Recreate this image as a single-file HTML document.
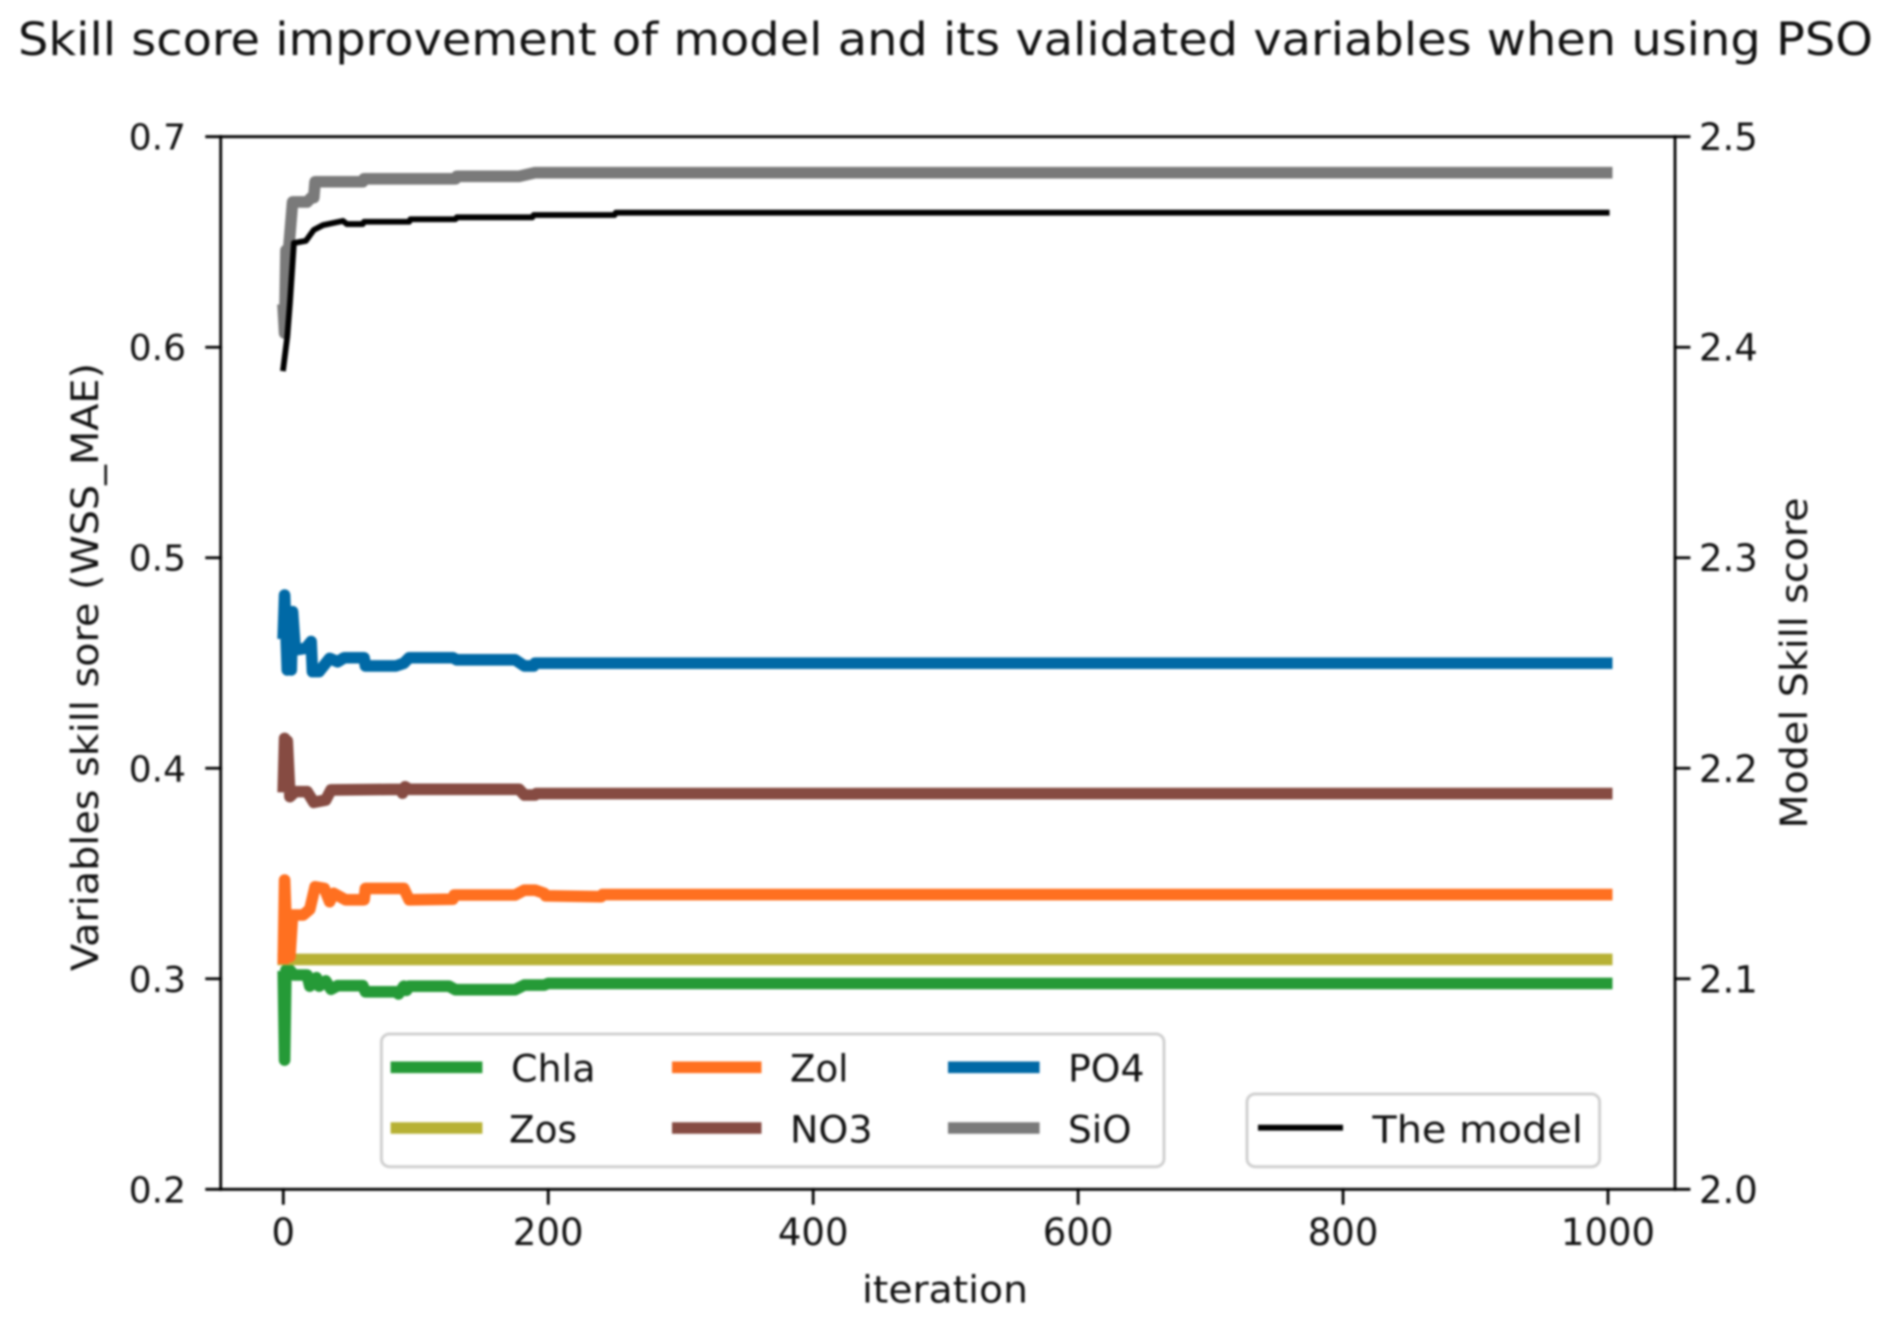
<!DOCTYPE html>
<html lang="en">
<head>
<meta charset="utf-8">
<title>Skill score improvement</title>
<style>
  html, body { margin: 0; padding: 0; background: #fff; }
  body { width: 1892px; height: 1324px; overflow: hidden; }
  svg { display: block; filter: blur(1.1px); }
  text { font-family: "DejaVu Sans", "Liberation Sans", sans-serif; fill: #111; }
  .tick-text { font-size: 37px; }
  .tick-text-left { font-size: 36px; }
  .legend-text { font-size: 37px; }
</style>
</head>
<body>
<svg id="chart" xmlns="http://www.w3.org/2000/svg" width="1892" height="1324" viewBox="0 0 1892 1324">
  <rect x="0" y="0" width="1892" height="1324" fill="#fff"/>
  <text x="18" y="55" font-size="45" textLength="1855" lengthAdjust="spacingAndGlyphs">Skill score improvement of model and its validated variables when using PSO</text>
  <text x="862" y="1302.5" font-size="37" textLength="166" lengthAdjust="spacingAndGlyphs">iteration</text>
  <text transform="translate(98 667) rotate(-90)" text-anchor="middle" font-size="37" textLength="608" lengthAdjust="spacingAndGlyphs">Variables skill sore (WSS_MAE)</text>
  <text transform="translate(1807 663) rotate(-90)" text-anchor="middle" font-size="37" textLength="331" lengthAdjust="spacingAndGlyphs">Model Skill score</text>
  <g id="series-layer"></g>
  <g id="axis-layer"></g>

  <g>
    <rect x="381.4" y="1034" width="782.6" height="132.7" rx="8" fill="#fff" fill-opacity="0.8" stroke="#d0d0d0" stroke-width="3"/>
    <line x1="390.6" x2="482.4" y1="1067.3" y2="1067.3" stroke="#259a37" stroke-width="11.6"/>
    <text class="legend-text" x="511" y="1081.7" textLength="84.5" lengthAdjust="spacingAndGlyphs">Chla</text>
    <line x1="390.6" x2="482.4" y1="1128" y2="1128" stroke="#b7b134" stroke-width="11.6"/>
    <text class="legend-text" x="509" y="1142.3" textLength="68" lengthAdjust="spacingAndGlyphs">Zos</text>
    <line x1="672" x2="761.5" y1="1067.3" y2="1067.3" stroke="#ff7020" stroke-width="11.6"/>
    <text class="legend-text" x="790" y="1081.7" textLength="58.5" lengthAdjust="spacingAndGlyphs">Zol</text>
    <line x1="672" x2="761.5" y1="1128" y2="1128" stroke="#864b42" stroke-width="11.6"/>
    <text class="legend-text" x="790" y="1142.3" textLength="82.5" lengthAdjust="spacingAndGlyphs">NO3</text>
    <line x1="948" x2="1039.6" y1="1067.3" y2="1067.3" stroke="#0069a6" stroke-width="11.6"/>
    <text class="legend-text" x="1068" y="1081.7" textLength="76.5" lengthAdjust="spacingAndGlyphs">PO4</text>
    <line x1="948" x2="1039.6" y1="1128" y2="1128" stroke="#7a7a7a" stroke-width="11.6"/>
    <text class="legend-text" x="1068" y="1142.3" textLength="63.5" lengthAdjust="spacingAndGlyphs">SiO</text>
  </g>
  <g>
    <rect x="1247" y="1094" width="352.6" height="72.7" rx="8" fill="#fff" fill-opacity="0.8" stroke="#d0d0d0" stroke-width="3"/>
    <line x1="1258" x2="1343" y1="1127.7" y2="1127.7" stroke="#000" stroke-width="5.8"/>
    <text class="legend-text" x="1372.4" y="1142.3" textLength="210.5" lengthAdjust="spacingAndGlyphs">The model</text>
  </g>
</svg>
<script>
const chlaIter = [0,1,2,5,8,18,20,25,27,32,36,41,60,62,85,87,91,93,95,125,130,175,182,197,200,999];
const chlaVals = [0.3010,0.2614,0.3041,0.3041,0.3018,0.3018,0.2965,0.3005,0.2965,0.2990,0.2950,0.2967,0.2967,0.2938,0.2938,0.2928,0.2965,0.2945,0.2965,0.2965,0.2948,0.2948,0.2970,0.2970,0.2978,0.2978];

const zosIter = [0,999];
const zosVals = [0.3092,0.3092];

const zolIter = [0,1,3,5,7,15,20,24,31,35,38,47,61,62,91,95,128,129,175,182,190,197,198,240,241,999];
const zolVals = [0.3097,0.3469,0.3105,0.3105,0.3303,0.3303,0.3330,0.3437,0.3429,0.3366,0.3406,0.3375,0.3375,0.3429,0.3429,0.3375,0.3378,0.3398,0.3398,0.3421,0.3421,0.3406,0.3394,0.3390,0.3400,0.3400];

const no3Iter = [0,1,2,3,5,9,18,23,32,36,89,90,92,95,178,182,190,191,999];
const no3Vals = [0.3913,0.4142,0.3913,0.4130,0.3865,0.3889,0.3889,0.3838,0.3849,0.3897,0.3900,0.3882,0.3912,0.3900,0.3900,0.3873,0.3873,0.3880,0.3880];

const po4Iter = [0,1,3,5,6,7,9,17,21,22,27,35,41,46,61,62,85,91,95,128,131,175,182,189,190,999];
const po4Vals = [0.4641,0.4823,0.4467,0.4744,0.4467,0.4744,0.4562,0.4570,0.4602,0.4459,0.4459,0.4522,0.4506,0.4525,0.4525,0.4486,0.4486,0.4499,0.4525,0.4525,0.4515,0.4515,0.4486,0.4486,0.4499,0.4499];

const sioIter = [0,1,2,4,7,18,21,23,24,60,61,130,131,178,190,999];
const sioVals = [0.6177,0.6067,0.6460,0.6460,0.6690,0.6690,0.6710,0.6710,0.6786,0.6786,0.6800,0.6800,0.6812,0.6812,0.6829,0.6829];

const modelIter = [0,3,5,8,17,23,30,45,48,60,61,95,96,130,131,188,189,250,251,999];
const modelVals = [2.3900,2.4050,2.4210,2.4495,2.4505,2.4557,2.4580,2.4600,2.4585,2.4585,2.4596,2.4596,2.4608,2.4608,2.4617,2.4617,2.4628,2.4628,2.4639,2.4639];

const xTickValues = [0,200,400,600,800,1000];
const xTickLabels = ['0','200','400','600','800','1000'];
const leftTickValues = [0.2,0.3,0.4,0.5,0.6,0.7];
const leftTickLabels = ['0.2','0.3','0.4','0.5','0.6','0.7'];
const rightTickValues = [2.0,2.1,2.2,2.3,2.4,2.5];
const rightTickLabels = ['2.0','2.1','2.2','2.3','2.4','2.5'];

const NS = 'http://www.w3.org/2000/svg';
const plotLeft = 220.7, plotRight = 1675, plotTop = 136.7, plotBottom = 1189.3;

function xScale(v) { return 283.3 + v * 1.3247; }
function leftScale(v) { return plotBottom - (v - 0.2) / 0.5 * (plotBottom - plotTop); }
function rightScale(v) { return plotBottom - (v - 2.0) / 0.5 * (plotBottom - plotTop); }

const seriesLayer = document.getElementById('series-layer');
const axisLayer = document.getElementById('axis-layer');

function pathFor(iters, vals, yScale) {
  return iters.map(function (it, i) {
    return (i ? 'L' : 'M') + xScale(it).toFixed(2) + ' ' + yScale(vals[i]).toFixed(2);
  }).join(' ');
}

function makeSeries(name, iters, vals, yScale, color, width) {
  const p = document.createElementNS(NS, 'path');
  
  
  p.setAttribute('d', pathFor(iters, vals, yScale));
  p.setAttribute('fill', 'none');
  p.setAttribute('stroke', color);
  p.setAttribute('stroke-width', width);
  p.setAttribute('stroke-linejoin', 'round');
  p.setAttribute('stroke-linecap', 'square');
  seriesLayer.appendChild(p);
}

makeSeries('series-chla', chlaIter, chlaVals, leftScale, '#259a37', 11.6);
makeSeries('series-zos', zosIter, zosVals, leftScale, '#b7b134', 11.6);
makeSeries('series-zol', zolIter, zolVals, leftScale, '#ff7020', 11.6);
makeSeries('series-no3', no3Iter, no3Vals, leftScale, '#864b42', 11.6);
makeSeries('series-po4', po4Iter, po4Vals, leftScale, '#0069a6', 11.6);
makeSeries('series-sio', sioIter, sioVals, leftScale, '#7a7a7a', 11.6);
makeSeries('series-model', modelIter, modelVals, rightScale, '#000000', 5.8);

function makeLine(name, x1, y1, x2, y2) {
  const l = document.createElementNS(NS, 'line');
  
  
  l.setAttribute('x1', x1);
  l.setAttribute('y1', y1);
  l.setAttribute('x2', x2);
  l.setAttribute('y2', y2);
  l.setAttribute('stroke', '#000');
  l.setAttribute('stroke-width', 2.8);
  l.setAttribute('stroke-linecap', 'square');
  axisLayer.appendChild(l);
}

function makeLabel(name, x, y, anchor, str, cls) {
  const t = document.createElementNS(NS, 'text');
  
  
  t.setAttribute('class', cls);
  t.setAttribute('x', x);
  t.setAttribute('y', y);
  t.setAttribute('text-anchor', anchor);
  t.textContent = str;
  axisLayer.appendChild(t);
}

makeLine('spine-left', plotLeft, plotTop, plotLeft, plotBottom);
makeLine('spine-right', plotRight, plotTop, plotRight, plotBottom);
makeLine('spine-top', plotLeft, plotTop, plotRight, plotTop);
makeLine('spine-bottom', plotLeft, plotBottom, plotRight, plotBottom);

xTickValues.forEach(function (v, i) {
  const px = xScale(v);
  makeLine('x-tick-' + xTickLabels[i], px, plotBottom, px, plotBottom + 14);
  makeLabel('x-tick-label-' + xTickLabels[i], px, 1245, 'middle', xTickLabels[i], 'tick-text');
});
leftTickValues.forEach(function (v, i) {
  const py = leftScale(v);
  makeLine('left-tick-' + leftTickLabels[i], plotLeft - 14, py, plotLeft, py);
  makeLabel('left-tick-label-' + leftTickLabels[i], 186, py + 13, 'end', leftTickLabels[i], 'tick-text-left');
});
rightTickValues.forEach(function (v, i) {
  const py = rightScale(v);
  makeLine('right-tick-' + rightTickLabels[i], plotRight, py, plotRight + 14, py);
  makeLabel('right-tick-label-' + rightTickLabels[i], 1699, py + 13.5, 'start', rightTickLabels[i], 'tick-text');
});
</script>
</body>
</html>
